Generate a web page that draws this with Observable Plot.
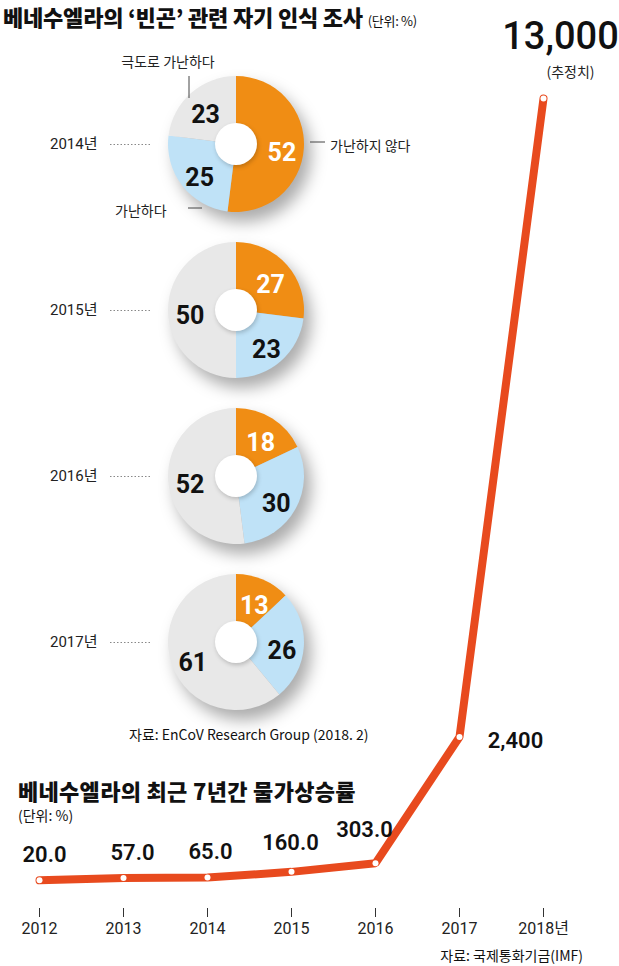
<!DOCTYPE html>
<html><head><meta charset="utf-8">
<script src="https://cdn.jsdelivr.net/npm/d3@7"></script>
<script src="https://cdn.jsdelivr.net/npm/@observablehq/plot@0.6"></script>
<style>
body{margin:0;background:#fff;}
#wrap{position:relative;width:619px;height:966px;overflow:hidden;font-family:"Noto Sans CJK KR",sans-serif;color:#111;background:#fff;}
#wrap svg{position:absolute;left:0;top:0;background:transparent !important;}
.abs{position:absolute;white-space:nowrap;z-index:5;}
</style></head><body>
<div id="wrap">
  <div class="abs" style="left:3px;top:3px;line-height:26px;font-size:22px;font-weight:900;letter-spacing:-0.2px;">베네수엘라의 ‘빈곤’ 관련 자기 인식 조사 <span style="font-size:13px;font-weight:400;letter-spacing:-0.3px;">(단위: %)</span></div>
  <div class="abs" style="left:18px;top:777px;line-height:26px;font-size:22px;font-weight:900;letter-spacing:0.3px;">베네수엘라의 최근 7년간 물가상승률</div>
  <div class="abs" style="left:18px;top:806px;line-height:18px;font-size:14px;letter-spacing:0px;">(단위: %)</div>
  <div class="abs" style="left:129px;top:725px;line-height:18px;font-size:14px;letter-spacing:0px;">자료: EnCoV Research Group (2018. 2)</div>
  <div class="abs" style="right:36px;top:946px;line-height:18px;font-size:14px;letter-spacing:0px;">자료: 국제통화기금(IMF)</div>
</div>
<script>
// ---- Inflation data (IMF) ----
const years = ["2012","2013","2014","2015","2016","2017","2018"];
const inflation = [20, 57, 65, 160, 303, 2400, 13000];
const valueLabels = ["20.0","57.0","65.0","160.0","303.0","2,400","13,000"];
const tickLabels = ["2012","2013","2014","2015","2016","2017","2018년"];

// ---- Survey data (EnCoV) ----
const surveyYears = ["2014","2015","2016","2017"];
const categories = ["가난하지 않다","가난하다","극도로 가난하다"];
const notPoor = [52, 27, 18, 13];
const poor = [25, 23, 30, 26];
const extremelyPoor = [23, 50, 52, 61];

const colors = ["#f08d14", "#bfe2f7", "#e8e8e8"];
const lineColor = "#e84a1e";

const wrap = document.getElementById("wrap");

// ===== Line chart =====
const rows = years.map((y, i) => ({year: y, value: inflation[i], label: valueLabels[i]}));
const labelOffsets = {
  "2012": [5, -25], "2013": [9, -25], "2014": [3, -26], "2015": [-1, -29],
  "2016": [-11, -33], "2017": [56, 4]
};
const labelMarks = years.filter(y => labelOffsets[y]).map(y =>
  Plot.text(rows.filter(d => d.year === y), {
    x: "year", y: "value", text: "label",
    dx: labelOffsets[y][0], dy: labelOffsets[y][1],
    fontSize: 22, fontWeight: 600, fill: "#111"
  })
);

const linePlot = Plot.plot({
  width: 619, height: 966,
  marginTop: 98, marginBottom: 85, marginLeft: 37, marginRight: 74,
  style: {fontFamily: "Roboto, 'Noto Sans CJK KR', sans-serif", background: "transparent"},
  x: {type: "point", domain: years, range: [37, 545], padding: 0},
  y: {type: "linear", domain: [0, 13000], axis: null},
  marks: [
    Plot.axisX({
      label: null, tickSize: 9, dy: 27, tickPadding: 5, fontSize: 16, stroke: "#333",
      tickFormat: (d) => tickLabels[years.indexOf(d)], fill: "#222"
    }),
    Plot.line(rows, {
      x: "year", y: "value", stroke: lineColor, strokeWidth: 8,
      strokeLinecap: "round", strokeLinejoin: "miter"
    }),
    Plot.dot(rows, {x: "year", y: "value", r: 3, fill: "white", stroke: null}),
    ...labelMarks,
    Plot.text(rows.filter(d => d.year === "2018"), {
      x: "year", y: "value", text: "label", dx: 17, dy: -62,
      fontSize: 38, fontWeight: 500, fill: "#111"
    }),
    Plot.text(rows.filter(d => d.year === "2018"), {
      x: "year", y: "value", text: () => "(추정치)", dx: 27, dy: -26,
      fontSize: 14, fill: "#222", fontFamily: "'Noto Sans CJK KR'"
    })
  ]
});
d3.select(linePlot).selectAll("path").filter(function() {
  return this.getAttribute("stroke") === lineColor;
}).style("filter", "drop-shadow(7px 13px 7px rgba(0,0,0,0.35))");
wrap.appendChild(linePlot);

// ===== Donuts =====
function donuts(index, scales) {
  const g = d3.create("svg:g");
  const cx = 236, R = 68, r0 = 21;
  const pie = d3.pie().sort(null).value(d => d.value);
  const arc = d3.arc().innerRadius(0).outerRadius(R);
  const labelArc = d3.arc().innerRadius(46).outerRadius(46);
  const series = [notPoor, poor, extremelyPoor];
  surveyYears.forEach((yr, i) => {
    const cy = scales.y(yr);
    const parts = categories.map((c, k) => ({cat: c, value: series[k][i], color: colors[k], k}));
    const arcs = pie(parts);
    const gg = g.append("g").attr("transform", `translate(${cx},${cy})`);
    gg.append("g").style("filter", "drop-shadow(7px 10px 8px rgba(0,0,0,0.33))")
      .selectAll("path").data(arcs).join("path")
      .attr("d", arc).attr("fill", d => d.data.color);
    gg.append("circle").attr("r", r0).attr("fill", "white")
      .style("filter", "drop-shadow(1px 2px 2px rgba(0,0,0,0.2))");
    gg.selectAll("text.v").data(arcs).join("text").attr("class", "v")
      .attr("transform", d => { const [x, y] = labelArc.centroid(d); return `translate(${x},${y + 5})`; })
      .attr("text-anchor", "middle").attr("dy", "0.35em")
      .attr("font-size", 25).attr("font-weight", 700)
      .attr("font-family", "Roboto, sans-serif")
      .attr("fill", d => d.data.k === 0 ? "white" : "#111")
      .text(d => d.data.value);
    if (i === 0) {
      const ann = gg.append("g").attr("font-size", 14).attr("fill", "#222")
        .attr("font-family", "'Noto Sans CJK KR'");
      ann.append("line").attr("x1", -47).attr("x2", -47).attr("y1", -68).attr("y2", -46).attr("stroke", "#444");
      ann.append("text").attr("x", -68).attr("y", -82).attr("dy", "0.35em").attr("text-anchor", "middle").text(categories[2]);
      ann.append("line").attr("x1", 74).attr("x2", 89).attr("y1", -2).attr("y2", -2).attr("stroke", "#444");
      ann.append("text").attr("x", 94).attr("y", 2).attr("dy", "0.35em").attr("text-anchor", "start").text(categories[0]);
      ann.append("line").attr("x1", -48).attr("x2", -34).attr("y1", 64).attr("y2", 64).attr("stroke", "#444");
      ann.append("text").attr("x", -121).attr("y", 67).attr("dy", "0.35em").attr("text-anchor", "start").text(categories[1]);
    }
  });
  return g.node();
}

const donutPlot = Plot.plot({
  width: 619, height: 966,
  marginLeft: 110, marginRight: 469, marginTop: 0, marginBottom: 0,
  style: {fontFamily: "Roboto, 'Noto Sans CJK KR', sans-serif", background: "transparent"},
  y: {type: "point", domain: surveyYears, range: [143, 643], padding: 0, axis: null},
  marks: [
    Plot.tickY(surveyYears, {y: d => d, stroke: "#888", strokeDasharray: "1.5 2", strokeWidth: 1}),
    Plot.text(surveyYears, {
      y: d => d, text: d => d + "년", frameAnchor: "left", dx: -13, textAnchor: "end",
      fontSize: 15, fill: "#222"
    }),
    donuts
  ]
});
wrap.appendChild(donutPlot);
</script>
</body></html>
